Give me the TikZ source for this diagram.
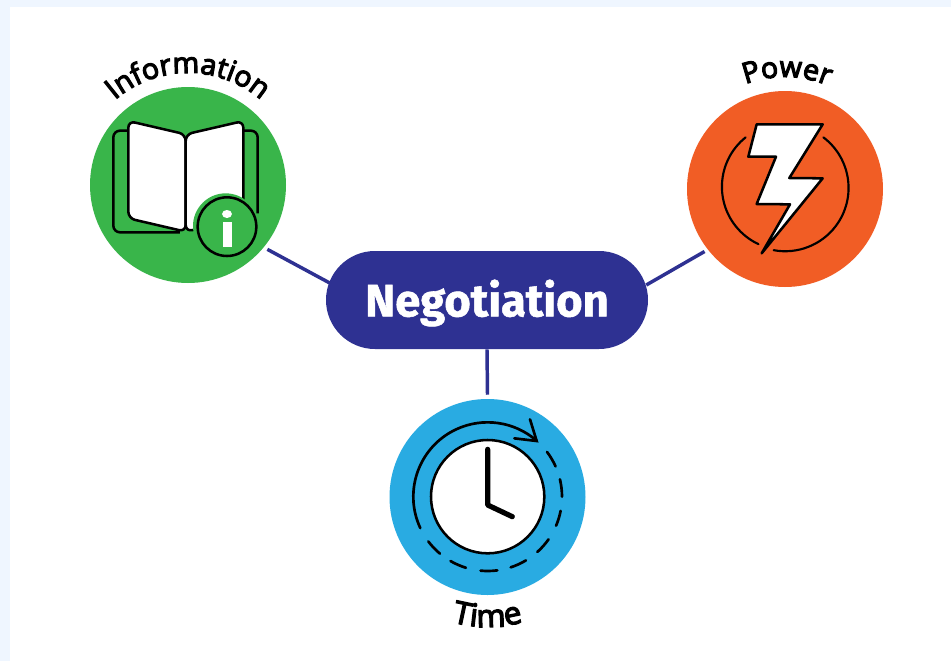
\documentclass[tikz,border=0pt]{standalone}
\usepackage{fontspec}
\setmainfont{Open Sans}
\newfontfamily\negfont{Fira Sans}[BoldFeatures={FakeBold=1.2}]
\newfontfamily\lblfont{Open Sans}[FakeBold=4]
\usetikzlibrary{shapes.misc,decorations.text}
\definecolor{pagebg}{HTML}{EFF6FF}
\definecolor{infogreen}{HTML}{39B54A}
\definecolor{powerorange}{HTML}{F15D25}
\definecolor{timeblue}{HTML}{29ABE2}
\definecolor{navy}{HTML}{2E3192}
\tikzset{
  disc/.style={circle,minimum size=147pt,inner sep=0pt,draw=none},
  hub/.style={rounded rectangle,fill=navy,text=white,minimum width=241.5pt,minimum height=73.5pt,inner sep=0pt,font=\negfont\bfseries\fontsize{34pt}{38pt}\selectfont},
  link/.style={draw=navy,line width=2.6pt},
  ink/.style={draw=black,line width=1.9pt,line join=round},
  thinink/.style={draw=black,line width=1.6pt,line cap=round},
  arclabel/.style={decorate,decoration={text along path,text align=center,raise=0pt,text color=black}}
}
\newcommand{\lblfmt}{\lblfont\fontsize{21.5pt}{24pt}\selectfont}
\begin{document}
\begin{tikzpicture}[x=0.75pt,y=-0.75pt]
\useasboundingbox (0,0) rectangle (951,661);
\fill[pagebg] (0,0) rectangle (951,661);
\fill[white] (10,7) rectangle (951,661);

\node[disc,fill=infogreen] (info) at (188,185) {};
\node[disc,fill=powerorange] (power) at (785,189) {};
\node[disc,fill=timeblue] (time) at (487.5,497) {};
\node[hub,text depth=0pt] (neg) at (487,300) {\raisebox{3pt}{Negotiation}};

\draw[link] ([shift={(3,2.5)}]info.-39) -- ([shift={(4,-17)}]neg.west);
\draw[link] ([shift={(-3,2)}]power.-142) -- ([shift={(-2,-15)}]neg.east);
\draw[link] (neg.south) -- ([shift={(0,-4)}]time.north);

% Information label and book
\path[arclabel,decoration={text={|\lblfmt|Information}}] (188,185) ++(230:112) arc (230:310:112);
\begin{scope}[shift={(80,40)},scale=1/3]
  \draw[ink,rounded corners=5pt] (145,272) -- (100,272) -- (100,577) -- (300,577);
  \draw[ink,rounded corners=5pt] (490,272) -- (533,272) -- (533,520);
  \draw[ink,fill=white,rounded corners=5pt] (317,283) -- (317,575) -- (145,535) -- (145,243) -- cycle;
  \draw[ink,fill=white,rounded corners=5pt] (317,283) -- (490,243) -- (490,535) -- (317,575) -- cycle;
  \fill[infogreen] (437,558) circle[radius=98];
  \draw[ink] (441,560) circle[radius=88];
  \fill[white] (441,522) ellipse[x radius=15,y radius=12];
  \fill[white] (428,545) rectangle (456,622);
\end{scope}

% Power label and bolt
\path[arclabel,decoration={text={|\lblfmt|Power}}] (785,189) ++(250:112) arc (250:292:112);
\begin{scope}[shift={(680,50)},scale=1/3]
  \draw[thinink] (197,262) arc (231.3:115:190);
  \draw[thinink] (430,262) arc (-53:100.5:190);
  \draw[ink,fill=white,miter limit=10] (230,223) -- (428,223) -- (328,384) -- (428,385) -- (245,610) -- (330,463) -- (230,462) -- (288,320) -- (205,320) -- cycle;
\end{scope}

% Time label and clock
\path[arclabel,decoration={text={|\lblfont\fontsize{23.5pt}{26pt}\selectfont|Time}}] (487.5,497) ++(112:130) arc (112:68:130);
\begin{scope}[shift={(380,390)},scale=1/3]
  \draw[ink,fill=white] (323,320) circle[radius=170];
  \draw[draw=black,line width=3.9pt,line cap=round,line join=round] (323,178) -- (323,345) -- (397,380);
  \draw[thinink,line width=2pt] (323,320) ++(155:223) arc (155:311:223);
  \draw[thinink,line width=2pt,line join=miter] (450,88) -- (470,153) -- (403,145);
  \foreach \a/\b in {-37/-24,-13.5/0,11/23,35/48,59/72,82.5/95.5,107/120,130/143}{
    \draw[thinink,line width=2pt] (323,320) ++(\a:223) arc (\a:\b:223);
  }
\end{scope}
\end{tikzpicture}
\end{document}
